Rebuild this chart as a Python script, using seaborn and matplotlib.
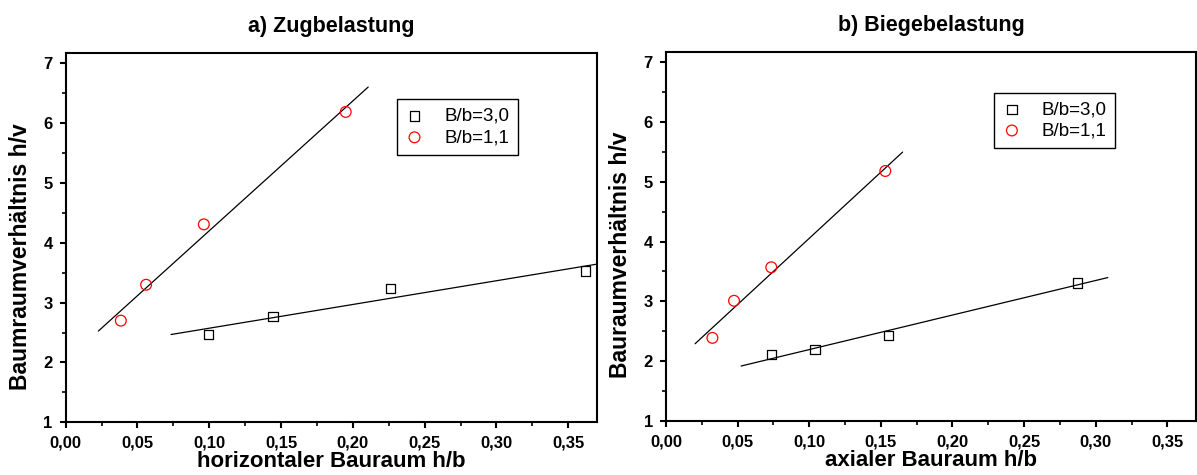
import numpy as np
import pandas as pd
import matplotlib
matplotlib.use("Agg")
import matplotlib.pyplot as plt
from matplotlib.ticker import MultipleLocator, FuncFormatter
import seaborn as sns

# ---------------- data ----------------
titles = ["a) Zugbelastung", "b) Biegebelastung"]
xlabels = ["horizontaler Bauraum h/b", "axialer Bauraum h/b"]
ylabels = ["Baumraumverhältnis h/v", "Bauraumverhältnis h/v"]
series_labels = ["B/b=3,0", "B/b=1,1"]

# panel a
a_sq_x = [0.0996, 0.1444, 0.2264, 0.3620]
a_sq_y = [2.47, 2.77, 3.24, 3.53]
a_ci_x = [0.0384, 0.0560, 0.0962, 0.1950]
a_ci_y = [2.70, 3.30, 4.31, 6.19]
# panel b
b_sq_x = [0.0738, 0.1040, 0.1555, 0.2871]
b_sq_y = [2.11, 2.20, 2.43, 3.31]
b_ci_x = [0.0324, 0.0475, 0.0735, 0.1531]
b_ci_y = [2.39, 3.01, 3.57, 5.18]

panels = [
    (a_sq_x, a_sq_y, a_ci_x, a_ci_y),
    (b_sq_x, b_sq_y, b_ci_x, b_ci_y),
]

# ---------------- style ----------------
sns.set_style("ticks")
plt.rcParams["font.family"] = ["Liberation Sans", "DejaVu Sans"]
plt.rcParams["text.color"] = "black"
plt.rcParams["axes.labelcolor"] = "black"
plt.rcParams["xtick.color"] = "black"
plt.rcParams["ytick.color"] = "black"
plt.rcParams["axes.edgecolor"] = "black"
plt.rcParams["axes.linewidth"] = 1.5
plt.rcParams["xtick.major.width"] = 1.5
plt.rcParams["ytick.major.width"] = 1.5
plt.rcParams["xtick.minor.width"] = 1.2
plt.rcParams["ytick.minor.width"] = 1.2
plt.rcParams["xtick.major.size"] = 4.5
plt.rcParams["ytick.major.size"] = 4.5
plt.rcParams["xtick.minor.size"] = 3.0
plt.rcParams["ytick.minor.size"] = 3.0
plt.rcParams["xtick.direction"] = "out"
plt.rcParams["ytick.direction"] = "out"

fig = plt.figure(figsize=(11.97, 4.75), dpi=100)
ax_pos = [
    [65.7 / 1197, (475 - 422.3) / 475, (597 - 65.7) / 1197, (422.3 - 53.3) / 475],
    [666 / 1197, (475 - 421) / 475, (1196 - 666) / 1197, (421 - 52) / 475],
]
legend_anchor = [(0.623, 0.875), (0.619, 0.890)]
ylabel_coords = [(-0.063, 0.45), (-0.064, 0.45)]

comma_fmt_x = FuncFormatter(lambda v, p: f"{v:.2f}".replace(".", ","))
int_fmt_y = FuncFormatter(lambda v, p: f"{v:.0f}")


def fit_line(x, y, ext=0.10):
    x = np.asarray(x)
    y = np.asarray(y)
    k, d = np.polyfit(x, y, 1)
    span = x.max() - x.min()
    xs = np.linspace(x.min() - ext * span, x.max() + ext * span, 50)
    return xs, k * xs + d


for i, (sx, sy, cx, cy) in enumerate(panels):
    ax = fig.add_axes(ax_pos[i])
    # fit lines
    for xx, yy in ((sx, sy), (cx, cy)):
        fx, fy = fit_line(xx, yy)
        sns.lineplot(x=fx, y=fy, color="black", linewidth=0.9, ax=ax,
                     legend=False, sort=False)
    sns.scatterplot(x=sx, y=sy, marker="s", s=45, facecolor="none",
                    edgecolor="black", linewidth=0.9, ax=ax,
                    label=series_labels[0], zorder=3)
    sns.scatterplot(x=cx, y=cy, marker="o", s=60, facecolor="none",
                    edgecolor="#ff0000", linewidth=0.9, ax=ax,
                    label=series_labels[1], zorder=3)

    ax.set_xlim(0, 0.37)
    ax.set_ylim(1, 7.17)
    ax.xaxis.set_major_locator(MultipleLocator(0.05))
    ax.xaxis.set_minor_locator(MultipleLocator(0.025))
    ax.yaxis.set_major_locator(MultipleLocator(1))
    ax.yaxis.set_minor_locator(MultipleLocator(0.5))
    ax.xaxis.set_major_formatter(comma_fmt_x)
    ax.yaxis.set_major_formatter(int_fmt_y)
    for s in ax.spines.values():
        s.set_visible(True)
        s.set_linewidth(1.5)
        s.set_color("black")
    ax.tick_params(axis="both", which="both", colors="black", top=False, right=False)
    ax.tick_params(axis="x", which="major", pad=5)
    ax.tick_params(axis="y", which="major", pad=5)
    for lab in ax.get_xticklabels() + ax.get_yticklabels():
        lab.set_fontweight("bold")
        lab.set_fontsize(12)

    ax.set_title(titles[i], fontsize=15.5, fontweight="bold", pad=15)
    ax.set_xlabel(xlabels[i], fontsize=16, fontweight="bold", labelpad=0.5)
    ax.set_ylabel(ylabels[i], fontsize=16.5, fontweight="bold")
    ax.yaxis.set_label_coords(*ylabel_coords[i])

    leg = ax.legend(loc="upper left", bbox_to_anchor=legend_anchor[i],
                    borderaxespad=0, fontsize=13.5, frameon=True,
                    fancybox=False, framealpha=1, edgecolor="black",
                    handlelength=1.0, handletextpad=1.1, labelspacing=0.22,
                    borderpad=0.45, markerscale=1.0)
    leg.get_frame().set_linewidth(1.0)

fig.savefig("out.png", dpi=100)
